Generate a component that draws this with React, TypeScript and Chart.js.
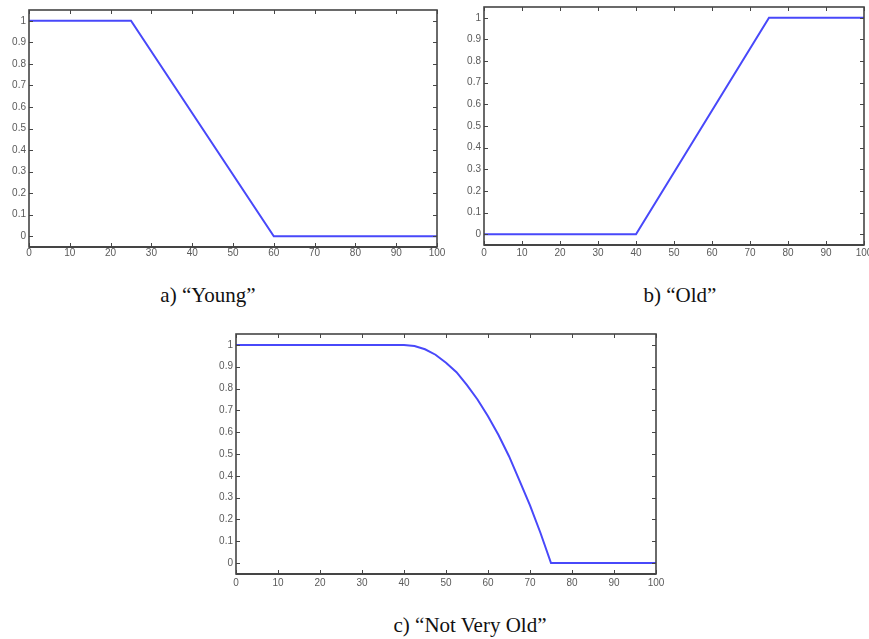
import React, { useEffect, useRef } from "react";
import { Chart, registerables } from "chart.js";

Chart.register(...registerables);

// ---- data ----
const xTickValues = [0, 10, 20, 30, 40, 50, 60, 70, 80, 90, 100];
const yTickValues = [0, 0.1, 0.2, 0.3, 0.4, 0.5, 0.6, 0.7, 0.8, 0.9, 1];

const youngX = [0, 25, 60, 100];
const youngY = [1, 1, 0, 0];

const oldX = [0, 40, 75, 100];
const oldY = [0, 0, 1, 1];

const notVeryOldX = [0, 40, 42.5, 45, 47.5, 50, 52.5, 55, 57.5, 60, 62.5, 65, 67.5, 70, 72.5, 75, 100];
const notVeryOldY = [1, 1, 0.995, 0.98, 0.955, 0.918, 0.875, 0.816, 0.75, 0.673, 0.587, 0.49, 0.378, 0.265, 0.138, 0, 0];

const captions = ["a) \u201cYoung\u201d", "b) \u201cOld\u201d", "c) \u201cNot Very Old\u201d"];

const LINE_COLOR = "rgb(72,72,250)";
const FRAME_COLOR = "#454545";
const TICK_TEXT = "#5a5a5a";

const framePlugin = {
  id: "matlabFrame",
  afterDraw(chart: any) {
    const { ctx, chartArea } = chart;
    const xs = chart.scales.x;
    const ys = chart.scales.y;
    const { left, right, top, bottom } = chartArea;
    const tl = 4;
    ctx.save();
    ctx.strokeStyle = FRAME_COLOR;
    ctx.lineWidth = 1;
    ctx.beginPath();
    xs.ticks.forEach((t: any) => {
      const px = Math.round(xs.getPixelForValue(t.value)) + 0.5;
      ctx.moveTo(px, bottom);
      ctx.lineTo(px, bottom - tl);
      ctx.moveTo(px, top);
      ctx.lineTo(px, top + tl);
    });
    ys.ticks.forEach((t: any) => {
      const py = Math.round(ys.getPixelForValue(t.value)) + 0.5;
      ctx.moveTo(left, py);
      ctx.lineTo(left + tl, py);
      ctx.moveTo(right, py);
      ctx.lineTo(right - tl, py);
    });
    ctx.stroke();
    ctx.lineWidth = 1.6;
    ctx.strokeRect(left, top, right - left, bottom - top);
    ctx.beginPath();
    ctx.lineWidth = 2;
    ctx.moveTo(left, bottom);
    ctx.lineTo(right, bottom);
    ctx.stroke();
    ctx.restore();
  },
};

type PanelProps = {
  xs: number[];
  ys: number[];
  left: number;
  top: number;
  width: number;
  height: number;
  padTop: number;
  padRight: number;
  xLabelPad: number;
};

function Panel({ xs, ys, left, top, width, height, padTop, padRight, xLabelPad }: PanelProps) {
  const ref = useRef<HTMLCanvasElement | null>(null);
  useEffect(() => {
    if (!ref.current) return;
    const chart = new Chart(ref.current, {
      type: "scatter",
      data: {
        datasets: [
          {
            data: xs.map((x, i) => ({ x, y: ys[i] })),
            showLine: true,
            borderColor: LINE_COLOR,
            borderWidth: 2,
            pointRadius: 0,
            tension: 0,
            fill: false,
          },
        ],
      },
      options: {
        animation: false,
        responsive: false,
        maintainAspectRatio: false,
        layout: { padding: { top: padTop, right: padRight, left: 0, bottom: 0 } },
        plugins: { legend: { display: false }, tooltip: { enabled: false } },
        scales: {
          x: {
            type: "linear",
            min: 0,
            max: 100,
            grid: { display: false, drawTicks: false },
            border: { display: false },
            ticks: {
              padding: xLabelPad,
              color: TICK_TEXT,
              font: { family: "Liberation Sans", size: 10 },
              maxRotation: 0,
              autoSkip: false,
              callback: (v: any) => String(v),
            },
            afterBuildTicks: (s: any) => {
              s.ticks = xTickValues.map((v) => ({ value: v }));
            },
            afterFit: (s: any) => {
              s.height = 22;
              s.paddingLeft = 0;
              s.paddingRight = 0;
            },
          },
          y: {
            type: "linear",
            min: -0.05,
            max: 1.05,
            grid: { display: false, drawTicks: false },
            border: { display: false },
            ticks: {
              padding: 3,
              color: TICK_TEXT,
              font: { family: "Liberation Sans", size: 10 },
              autoSkip: false,
              callback: (v: any) => String(v),
            },
            afterBuildTicks: (s: any) => {
              s.ticks = yTickValues.map((v) => ({ value: v }));
            },
            afterFit: (s: any) => {
              s.width = 29;
              s.paddingTop = 0;
              s.paddingBottom = 0;
            },
          },
        },
      },
      plugins: [framePlugin],
    });
    return () => chart.destroy();
  }, []);
  return (
    <canvas
      ref={ref}
      width={width}
      height={height}
      style={{ position: "absolute", left, top, width, height }}
    />
  );
}

const captionStyle: React.CSSProperties = {
  position: "absolute",
  fontFamily: "'Liberation Serif', 'Times New Roman', serif",
  fontSize: 21,
  lineHeight: "24px",
  color: "#111",
  whiteSpace: "nowrap",
  transform: "translateX(-50%)",
};

export default function App() {
  return (
    <div
      style={{
        position: "absolute",
        left: 0,
        top: 0,
        width: 869,
        height: 639,
        background: "#fff",
        overflow: "hidden",
      }}
    >
      <Panel xs={youngX} ys={youngY} left={0} top={6} width={452} height={263} padTop={4} padRight={15} xLabelPad={0} />
      <Panel xs={oldX} ys={oldY} left={455} top={3} width={414} height={264} padTop={4} padRight={5} xLabelPad={2} />
      <Panel
        xs={notVeryOldX}
        ys={notVeryOldY}
        left={207}
        top={330}
        width={463}
        height={266}
        padTop={4}
        padRight={14}
        xLabelPad={3}
      />
      <div style={{ ...captionStyle, left: 208, top: 283 }}>{captions[0]}</div>
      <div style={{ ...captionStyle, left: 680, top: 283 }}>{captions[1]}</div>
      <div style={{ ...captionStyle, left: 470, top: 613 }}>{captions[2]}</div>
    </div>
  );
}
